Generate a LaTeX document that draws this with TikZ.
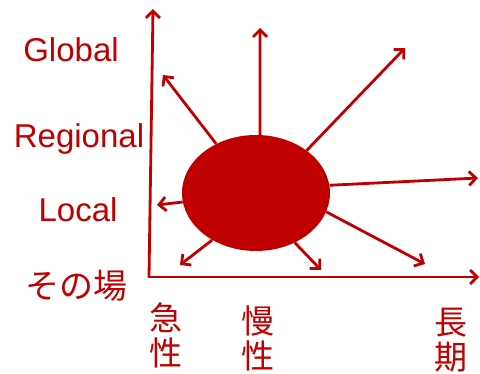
\documentclass[tikz,border=0pt]{standalone}
\usepackage{fontspec}
\setmainfont{Liberation Sans}
\newfontfamily\cjk{Noto Sans CJK JP}
\usetikzlibrary{arrows.meta,shapes.geometric}
\definecolor{dred}{HTML}{C00000}
\tikzset{
  arr/.style={draw=dred, line width=2.8pt, -{Straight Barb[length=7pt,width=14pt,line width=2.8pt]}},
  lbl/.style={text=dred, font=\fontsize{33}{36}\selectfont, inner sep=0pt},
  vlbl/.style={text=dred, font=\cjk\fontsize{33}{35}\selectfont, align=center, inner sep=0pt},
}
\begin{document}
\begin{tikzpicture}[x=1pt,y=-1pt]
\useasboundingbox (0,0) rectangle (480,374);
% axes
\coordinate (o) at (149,277);
\coordinate (ytop) at (153,9);
\coordinate (xend) at (479,277);
\draw[arr] (o) -- (ytop);
\draw[arr] ([xshift=-1.4pt]o) -- (xend);
% ellipse
\node[ellipse, fill=dred, minimum width=148pt, minimum height=116pt, inner sep=0pt] (e) at (256,193) {};
% tips
\coordinate (t1) at (163,75);
\coordinate (t2) at (260,28);
\coordinate (t3) at (405,48);
\coordinate (t4) at (478,178);
\coordinate (t5) at (157,205);
\coordinate (t6) at (180,265);
\coordinate (t7) at (321,270);
\coordinate (t8) at (425,264);
\draw[arr] (e.129) -- (t1);
\draw[arr] (e.86) -- (t2);
\draw[arr] (e.40) -- (t3);
\draw[arr] (e.6) -- (t4);
\draw[arr] (e.187) -- (t5);
\draw[arr] (e.227) -- (t6);
\draw[arr] (e.308) -- (t7);
\draw[arr] (e.345) -- (t8);
% labels
\node[lbl] (glob) at (71,50) {Global};
\node[lbl] (reg) at (79,139) {Regional};
\node[lbl] (loc) at (78,210) {Local};
\node[lbl, font=\cjk\fontsize{34}{36}\selectfont] (sonoba) at (77,286) {その場};
\node[vlbl] (kyu) at (166,335) {急\\性};
\node[vlbl] (man) at (258,338) {慢\\性};
\node[vlbl] (cho) at (451,340) {長\\期};
\end{tikzpicture}
\end{document}
